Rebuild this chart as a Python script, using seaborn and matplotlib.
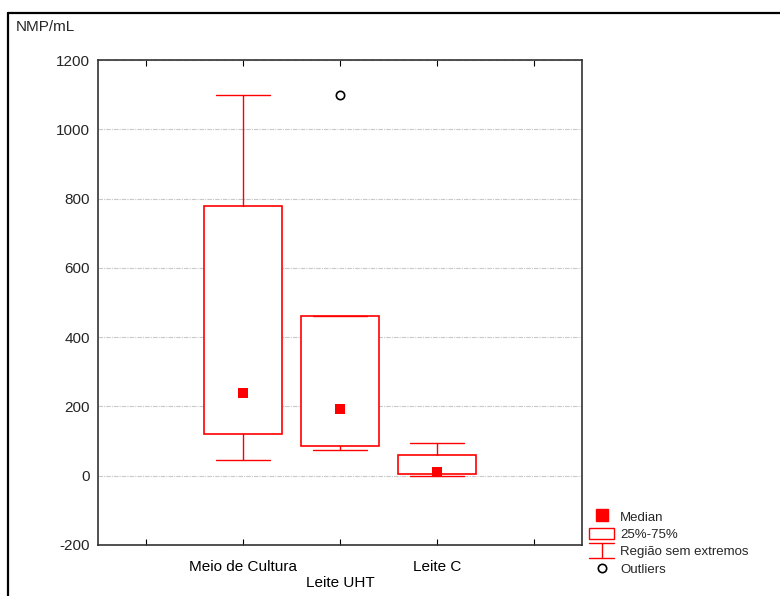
"""
Box plot NMP/mL por meio (estilo Statistica)
"""

import numpy as np
import matplotlib
matplotlib.use('Agg')
import matplotlib.pyplot as plt
from matplotlib.lines import Line2D
from matplotlib.patches import Patch
from matplotlib.legend_handler import HandlerBase
import seaborn as sns

# Data
categories = ['Meio de Cultura', 'Leite UHT', 'Leite C']
medians = [240, 193, 12]
q1 = [121, 85, 6]
q3 = [779, 462, 60]
whisker_low = [46, 75, 0]
whisker_high = [1100, 462, 95]
outlier_cat = ['Leite UHT']
outlier_val = [1100]

y_ticks = [-200, 0, 200, 400, 600, 800, 1000, 1200]
legend_labels = ['Median', '25%-75%', 'Região sem extremos', 'Outliers']

RED = '#ff0000'


class WhiskerHandler(HandlerBase):
    """Legend handle drawn as an I-shaped whisker"""

    def create_artists(self, legend, orig_handle, xdescent, ydescent,
                       width, height, fontsize, trans):
        y_top = height * 1.05
        y_bot = -height * 0.2
        xc = width / 2 - xdescent
        kw = dict(color=RED, linewidth=1.0, transform=trans)
        return [
            Line2D([-xdescent, width - xdescent], [y_top, y_top], **kw),
            Line2D([-xdescent, width - xdescent], [y_bot, y_bot], **kw),
            Line2D([xc, xc], [y_bot, y_top], **kw),
        ]


def main():
    sns.set_style('white')
    plt.rcParams['font.family'] = ['Liberation Sans', 'DejaVu Sans']

    fig = plt.figure(figsize=(7.8, 5.96), dpi=100)
    ax = fig.add_axes([98 / 780, 51 / 596, 484 / 780, 485 / 596])

    positions = np.arange(len(categories))

    # Boxes from precomputed stats
    stats = []
    for i, name in enumerate(categories):
        stats.append({
            'label': name,
            'med': medians[i],
            'q1': q1[i],
            'q3': q3[i],
            'whislo': whisker_low[i],
            'whishi': whisker_high[i],
            'fliers': [],
        })
    ax.bxp(stats, positions=positions, widths=0.8, capwidths=0.56,
           showfliers=False, patch_artist=True,
           boxprops=dict(facecolor='white', edgecolor=RED, linewidth=1.2),
           whiskerprops=dict(color=RED, linewidth=1.0),
           capprops=dict(color=RED, linewidth=1.0),
           medianprops=dict(linewidth=0), zorder=3)

    # Median squares
    sns.scatterplot(x=positions, y=medians, marker='s', s=60, color=RED,
                    edgecolor=RED, linewidth=0, zorder=4, ax=ax, legend=False)

    # Outliers
    out_pos = [categories.index(c) for c in outlier_cat]
    sns.scatterplot(x=out_pos, y=outlier_val, marker='o', s=36,
                    facecolor='white', edgecolor='black', linewidth=1.2,
                    zorder=4, ax=ax, legend=False)

    # Axes styling
    ax.set_xlim(-1.5, 3.5)
    ax.set_ylim(-200, 1200)
    ax.set_yticks(y_ticks)
    ax.set_yticklabels([str(v) for v in y_ticks], fontsize=11)
    ax.set_xticks([-1, 0, 1, 2, 3])
    ax.set_xticklabels(['', categories[0], '\n' + categories[1],
                        categories[2], ''], fontsize=11)
    ax.tick_params(axis='x', direction='in', length=4, width=0.8,
                   top=True, bottom=True, pad=11, colors='black')
    ax.tick_params(axis='y', length=0, pad=6)
    ax.set_xlabel('')
    ax.set_ylabel('')

    ax.yaxis.grid(True, color='#c8c8c8', linestyle=(0, (4, 1, 1, 1)),
                  linewidth=0.8)
    ax.xaxis.grid(False)
    ax.set_axisbelow(True)
    for side in ['left', 'right', 'top', 'bottom']:
        ax.spines[side].set_visible(True)
        ax.spines[side].set_color('#333333')
        ax.spines[side].set_linewidth(1.2)

    # Outer frame and unit label
    fig.add_artist(Line2D([8 / 780, 8 / 780], [0, 1 - 13 / 596],
                          transform=fig.transFigure, color='black',
                          linewidth=1.6))
    fig.add_artist(Line2D([8 / 780, 1], [1 - 13 / 596, 1 - 13 / 596],
                          transform=fig.transFigure, color='black',
                          linewidth=1.6))
    fig.text(16 / 780, 1 - 27 / 596, 'NMP/mL', fontsize=11,
             ha='left', va='center')

    # Legend
    handles = [
        Line2D([], [], marker='s', color=RED, linestyle='none',
               markersize=8),
        Patch(facecolor='white', edgecolor=RED, linewidth=1.0),
        Line2D([], [], color=RED),
        Line2D([], [], marker='o', linestyle='none', markerfacecolor='white',
               markeredgecolor='black', markersize=6, markeredgewidth=1.2),
    ]
    fig.legend(handles, legend_labels, loc='upper left',
               bbox_to_anchor=(584 / 780, 1 - 505 / 596), frameon=False,
               fontsize=9.5, handlelength=1.9, handleheight=1.0,
               handletextpad=0.45, labelspacing=0.3, borderaxespad=0,
               handler_map={handles[2]: WhiskerHandler()})

    fig.savefig('out.png', dpi=100)
    plt.close(fig)


if __name__ == '__main__':
    main()
